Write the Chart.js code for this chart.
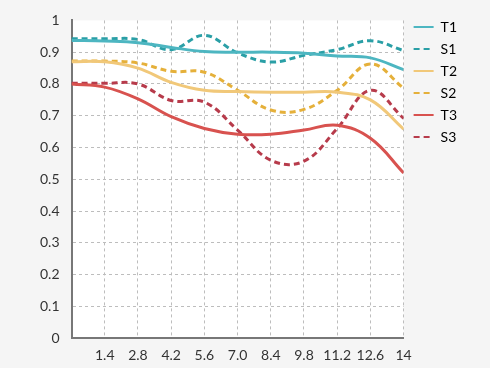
<!DOCTYPE html>
<html>
<head>
<meta charset="utf-8">
<script src="https://cdn.jsdelivr.net/npm/chart.js@4"></script>
<style>
  html, body { margin: 0; padding: 0; background: #f5f5f5; }
  #wrap { width: 490px; height: 368px; }
</style>
</head>
<body>
<div id="wrap"><canvas id="chart" width="490" height="368"></canvas></div>
<script>
const xValues = [0, 1.4, 2.8, 4.2, 5.6, 7.0, 8.4, 9.8, 11.2, 12.6, 14];
const xTicks = [1.4, 2.8, 4.2, 5.6, 7.0, 8.4, 9.8, 11.2, 12.6, 14];
const xTickLabels = ["1.4", "2.8", "4.2", "5.6", "7.0", "8.4", "9.8", "11.2", "12.6", "14"];
const yTickLabels = ["0", "0.1", "0.2", "0.3", "0.4", "0.5", "0.6", "0.7", "0.8", "0.9", "1"];

const t1 = [0.937, 0.935, 0.93, 0.915, 0.902, 0.9, 0.9, 0.897, 0.888, 0.882, 0.845];
const s1 = [0.942, 0.942, 0.94, 0.908, 0.953, 0.898, 0.869, 0.89, 0.908, 0.936, 0.905];
const t2 = [0.87, 0.87, 0.85, 0.805, 0.78, 0.776, 0.774, 0.774, 0.774, 0.75, 0.658];
const s2 = [0.872, 0.872, 0.866, 0.84, 0.837, 0.78, 0.718, 0.72, 0.78, 0.863, 0.787];
const t3 = [0.8, 0.79, 0.753, 0.697, 0.66, 0.642, 0.642, 0.655, 0.67, 0.629, 0.52];
const s3 = [0.802, 0.802, 0.8, 0.748, 0.743, 0.655, 0.56, 0.557, 0.66, 0.78, 0.692];

function series(label, values, color, dashed) {
  return {
    label,
    data: values.map((v, i) => ({ x: xValues[i], y: v })),
    borderColor: color,
    backgroundColor: color,
    borderWidth: 3,
    borderDash: dashed ? [6, 4] : [],
    pointRadius: 0,
    tension: 0.4,
    fill: false,
  };
}

// white plot area on grey page
const plotBg = {
  id: "plotBg",
  beforeDraw(chart) {
    const { ctx, chartArea: a } = chart;
    ctx.save();
    ctx.fillStyle = "#ffffff";
    ctx.fillRect(a.left, a.top, a.right - a.left, a.bottom - a.top);
    ctx.restore();
  },
};

// nudge the legend a bit right and up
const legendNudge = {
  id: "legendNudge",
  afterLayout(chart) {
    const lg = chart.legend;
    if (!lg) return;
    lg.left += 2;
    lg.right += 2;
    lg.top -= 8;
    lg.bottom -= 8;
  },
};

Chart.defaults.font.family = "Lato, 'Open Sans', sans-serif";
Chart.defaults.color = "#333";

new Chart(document.getElementById("chart"), {
  type: "line",
  data: {
    datasets: [
      series("T1", t1, "#4db6c1", false),
      series("S1", s1, "#2a9fa6", true),
      series("T2", t2, "#f1c879", false),
      series("S2", s2, "#e5b03a", true),
      series("T3", t3, "#d8524f", false),
      series("S3", s3, "#b73b4b", true),
    ],
  },
  options: {
    responsive: false,
    animation: false,
    layout: { padding: { top: 20, right: 25, bottom: -5, left: 28 } },
    plugins: {
      tooltip: { enabled: false },
      legend: {
        position: "right",
        align: "start",
        labels: {
          usePointStyle: true,
          pointStyle: "line",
          pointStyleWidth: 20,
          boxHeight: 13,
          padding: 8,
          font: { size: 14 },
          color: "#222",
          generateLabels: (chart) =>
            chart.data.datasets.map((ds, i) => ({
              text: ds.label,
              datasetIndex: i,
              strokeStyle: ds.borderColor,
              fillStyle: ds.borderColor,
              lineWidth: 2,
              lineDash: ds.borderDash,
              pointStyle: "line",
              hidden: false,
            })),
        },
      },
    },
    scales: {
      x: {
        type: "linear",
        min: 0,
        max: 14,
        afterBuildTicks: (axis) => {
          axis.ticks = xTicks.map((v) => ({ value: v }));
        },
        ticks: {
          font: { size: 14 },
          color: "#333",
          maxRotation: 0,
          padding: 9,
          callback: (v) => {
            const i = xTicks.indexOf(v);
            return i >= 0 ? xTickLabels[i] : "";
          },
        },
        grid: {
          color: "#bdbdbd",
          lineWidth: 1,
          drawTicks: false,
        },
        border: { display: true, color: "#777", width: 2, dash: [3, 3] },
      },
      y: {
        min: 0,
        max: 1,
        ticks: {
          stepSize: 0.1,
          font: { size: 14 },
          color: "#333",
          padding: 12,
          callback: (v, i) => yTickLabels[i],
        },
        grid: {
          color: (c) => (c.index === 10 ? "rgba(0,0,0,0)" : "#bdbdbd"),
          lineWidth: 1,
          drawTicks: false,
        },
        border: { display: true, color: "#777", width: 2, dash: [3, 3] },
      },
    },
  },
  plugins: [plotBg, legendNudge],
});
</script>
</body>
</html>
